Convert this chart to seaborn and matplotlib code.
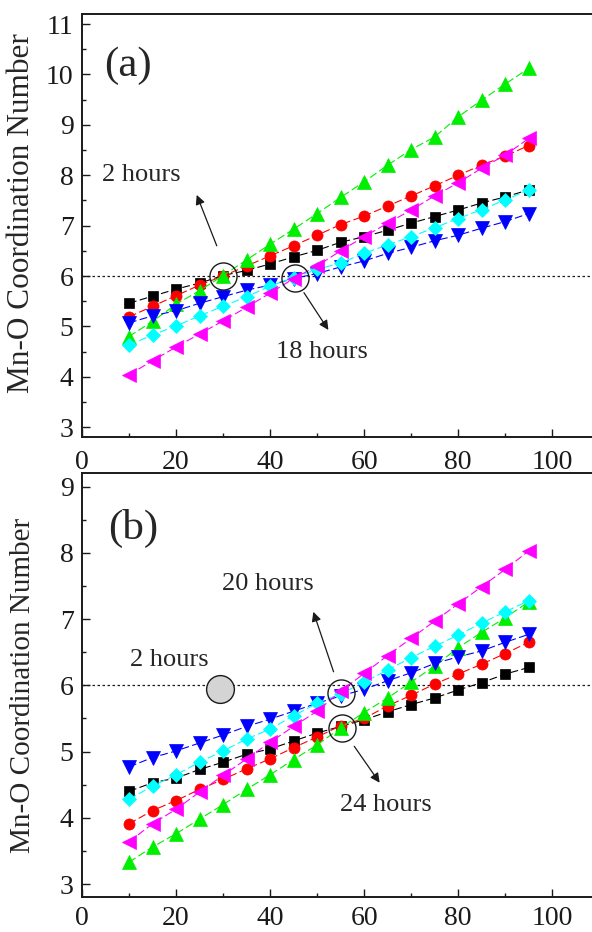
import pandas as pd
import matplotlib.pyplot as plt
from matplotlib.ticker import MultipleLocator
import seaborn as sns

# temperature-like x values shared by both panels
x = [10, 15, 20, 25, 30, 35, 40, 45, 50, 55, 60, 65, 70, 75, 80, 85, 90, 95]

# panel (a)
a_black = [5.46, 5.60, 5.74, 5.86, 6.01, 6.11, 6.24, 6.38, 6.51, 6.67, 6.78, 6.91, 7.05, 7.18, 7.31, 7.45, 7.57, 7.71]
a_red = [5.19, 5.40, 5.61, 5.82, 6.00, 6.20, 6.40, 6.60, 6.81, 7.02, 7.19, 7.39, 7.59, 7.79, 8.00, 8.20, 8.38, 8.59]
a_green = [4.80, 5.10, 5.44, 5.71, 6.01, 6.32, 6.63, 6.93, 7.24, 7.56, 7.87, 8.20, 8.51, 8.76, 9.16, 9.49, 9.81, 10.12]
a_blue = [5.07, 5.21, 5.31, 5.46, 5.59, 5.72, 5.82, 5.95, 6.05, 6.18, 6.30, 6.45, 6.57, 6.70, 6.81, 6.95, 7.08, 7.24]
a_cyan = [4.63, 4.83, 5.01, 5.21, 5.40, 5.59, 5.80, 5.97, 6.13, 6.26, 6.45, 6.62, 6.78, 6.96, 7.14, 7.32, 7.51, 7.71]
a_magenta = [4.04, 4.32, 4.59, 4.85, 5.11, 5.38, 5.66, 5.95, 6.20, 6.50, 6.78, 7.05, 7.31, 7.59, 7.85, 8.14, 8.40, 8.73]

# panel (b)
b_black = [4.40, 4.53, 4.60, 4.73, 4.84, 4.96, 5.04, 5.16, 5.28, 5.38, 5.48, 5.60, 5.71, 5.81, 5.93, 6.04, 6.17, 6.27]
b_red = [3.91, 4.11, 4.26, 4.43, 4.58, 4.74, 4.89, 5.06, 5.22, 5.39, 5.50, 5.69, 5.85, 6.02, 6.17, 6.32, 6.48, 6.65]
b_green = [3.33, 3.56, 3.76, 3.98, 4.20, 4.43, 4.65, 4.88, 5.10, 5.36, 5.59, 5.81, 6.05, 6.29, 6.57, 6.80, 7.02, 7.26]
b_blue = [4.77, 4.91, 5.01, 5.13, 5.25, 5.38, 5.49, 5.61, 5.73, 5.84, 5.94, 6.07, 6.19, 6.33, 6.43, 6.52, 6.65, 6.77]
b_cyan = [4.28, 4.48, 4.65, 4.84, 5.01, 5.19, 5.34, 5.54, 5.73, 5.87, 6.05, 6.23, 6.42, 6.59, 6.76, 6.94, 7.11, 7.28]
b_magenta = [3.64, 3.91, 4.13, 4.39, 4.64, 4.89, 5.14, 5.38, 5.61, 5.91, 6.18, 6.45, 6.71, 6.97, 7.23, 7.49, 7.75, 8.03]

series_names = ['black', 'red', 'green', 'blue', 'cyan', 'magenta']
colors = ['#000000', '#ff0000', '#00ee00', '#0000ff', '#00ffff', '#ff00ff']
markers = ['s', 'o', '^', 'v', 'D', '<']
msizes = [7.2, 8.0, 9.4, 9.4, 6.8, 10.0]

sns.set_theme(style='ticks')
plt.rcParams['font.family'] = ['Liberation Serif', 'DejaVu Serif']
plt.rcParams['axes.linewidth'] = 1.4

fig = plt.figure(figsize=(5.92, 9.32), dpi=100)
# right edge of the axes lies outside the canvas, as in the cropped original
ax_a = fig.add_axes([0.1385, 0.5308, 0.892, 0.4542])
ax_b = fig.add_axes([0.1385, 0.0372, 0.892, 0.4549])


def draw_panel(ax, values, ylim, label_size, label_y, xpad):
    df = pd.DataFrame({'x': x * len(values),
                       'cn': sum(values, []),
                       'series': [n for n in series_names for _ in x]})
    for name, c, m, ms in zip(series_names, colors, markers, msizes):
        sns.lineplot(data=df[df.series == name], x='x', y='cn', ax=ax,
                     color=c, marker=m, markersize=ms, markeredgecolor=c,
                     markeredgewidth=0.5, linewidth=0.8, linestyle=(0, (7, 3)))
    ax.axhline(6, color='k', lw=0.9, ls=(0, (2, 2)), zorder=0)
    ax.set_xlim(0, 112.3)
    ax.set_ylim(*ylim)
    ax.xaxis.set_major_locator(MultipleLocator(20))
    ax.xaxis.set_minor_locator(MultipleLocator(10))
    ax.yaxis.set_major_locator(MultipleLocator(1))
    ax.yaxis.set_minor_locator(MultipleLocator(0.5))
    ax.set_xticks([0, 20, 40, 60, 80, 100])
    ax.tick_params(which='both', direction='in', top=False, right=False,
                   width=1, labelsize=20, colors='k')
    ax.tick_params(which='major', length=6)
    ax.tick_params(axis='y', pad=6)
    ax.tick_params(axis='x', pad=xpad)
    ax.tick_params(which='minor', length=3)
    ax.set_xlabel('')
    ax.set_ylabel('Mn-O Coordination Number', fontsize=label_size)
    ax.yaxis.set_label_coords(-0.088, label_y)
    for s in ax.spines.values():
        s.set_color('k')


draw_panel(ax_a, [a_black, a_red, a_green, a_blue, a_cyan, a_magenta], (2.8, 11.2), 22.5, 0.53, 9)
draw_panel(ax_b, [b_black, b_red, b_green, b_blue, b_cyan, b_magenta], (2.8, 9.2), 21, 0.5, 6)

arrow = dict(arrowstyle='-|>', color='k', lw=0.9, mutation_scale=14,
             shrinkA=0, shrinkB=0)
ring = dict(marker='o', ms=19.5, mfc='none', mec='k', mew=1, ls='none', zorder=5)

# panel (a) annotations
ax_a.text(9.8, 10.17, '(a)', fontsize=31, ha='center', va='center')
ax_a.plot([30.0], [6.0], **ring)
ax_a.plot([45.2], [5.955], **ring)
ax_a.annotate('', xy=(24.4, 7.61), xytext=(28.66, 6.60), arrowprops=arrow)
ax_a.annotate('', xy=(52.4, 4.93), xytext=(47.2, 5.67), arrowprops=arrow)
ax_a.text(12.55, 8.0, '2 hours', fontsize=19, ha='center', va='center')
ax_a.text(51.1, 4.49, '18 hours', fontsize=19, ha='center', va='center')

# panel (b) annotations
ax_b.text(10.9, 8.37, '(b)', fontsize=31, ha='center', va='center')
ax_b.plot([55.0], [5.89], **ring)
ax_b.plot([55.3], [5.35], **ring)
ax_b.plot([29.4], [5.94], marker='o', ms=20, mfc='#d4d4d4', mec='k', mew=1,
          ls='none', zorder=5)
ax_b.annotate('', xy=(49.2, 7.11), xytext=(53.5, 6.205), arrowprops=arrow)
ax_b.annotate('', xy=(63.3, 4.53), xytext=(57.9, 5.08), arrowprops=arrow)
ax_b.text(18.5, 6.38, '2 hours', fontsize=19, ha='center', va='center')
ax_b.text(39.6, 7.53, '20 hours', fontsize=19, ha='center', va='center')
ax_b.text(64.7, 4.19, '24 hours', fontsize=19, ha='center', va='center')

fig.savefig('out.png', dpi=100)
